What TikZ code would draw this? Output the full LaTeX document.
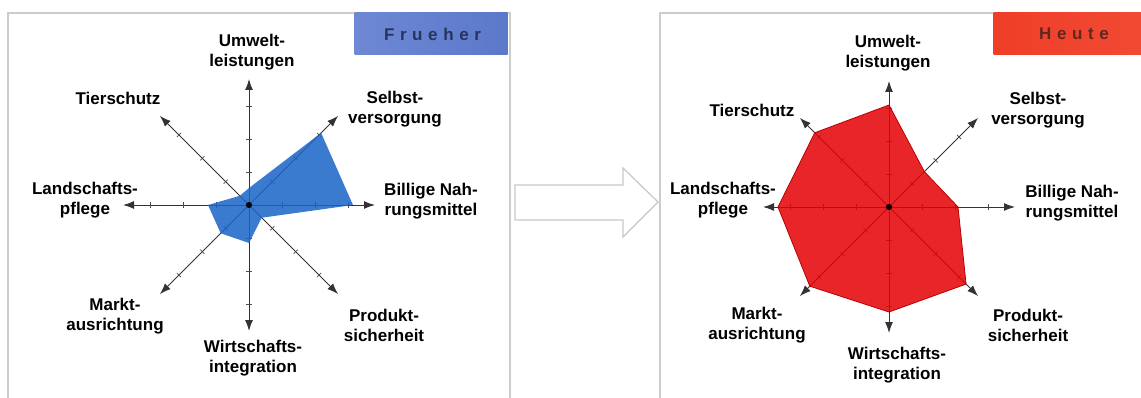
\documentclass[tikz,border=0pt]{standalone}
\usepackage{fontspec}
\setmainfont{Liberation Sans}
\usetikzlibrary{arrows.meta,positioning}
\definecolor{blaufl}{HTML}{1864C8}
\definecolor{rotfl}{HTML}{E40004}
\definecolor{blaul}{HTML}{6E88D4}
\definecolor{blaum}{HTML}{9CB0E8}
\definecolor{blaur}{HTML}{5C78CA}
\definecolor{blautext}{HTML}{27345E}
\definecolor{rotl}{HTML}{EF3E28}
\definecolor{rotm}{HTML}{F6806C}
\definecolor{rotr}{HTML}{F24A34}
\definecolor{rottext}{HTML}{62281F}
\begin{document}
\begin{tikzpicture}[x=1pt,y=1pt,
    lab/.style = {align=center, inner sep=0pt, font=\fontsize{17}{20}\selectfont\bfseries},
    achse/.style = {draw=black!80, line width=1pt, -{Latex[length=11pt,width=8pt]}},
    strich/.style = {draw=black!70, line width=0.7pt},
    punkt/.style = {circle, fill=black, inner sep=0pt, minimum size=6pt},
    rahmen/.style = {draw=black!20, line width=1.5pt},
    titel/.style = {minimum width=153pt, minimum height=42pt, inner sep=0pt,
        font=\fontsize{17}{20}\selectfont\bfseries\addfontfeature{LetterSpace=33}}]

    \useasboundingbox (0,0) rectangle (1141,397);

    % Rahmen
    \draw[rahmen] (8,-2) -- (8,384) -- (510,384) -- (510,-2);
    \draw[rahmen] (660,-2) -- (660,384) -- (1143,384);

    % Titel
    \node[titel, left color=blaul, middle color=blaum, right color=blaur, text=blautext]
        (frueher) at (431,363) {\hspace*{3pt}Frueher};
    \node[titel, left color=rotl, middle color=rotm, right color=rotr, text=rottext]
        (heute) at (1070,363) {\hspace*{8pt}Heute};

    % Pfeil
    \draw[draw=black!22, line width=1.2pt, line join=miter]
        (515,212) -- (623,212) -- (623,229) -- (658,195) -- (623,160) -- (623,177) -- (515,177) -- cycle;

    % Frueher
    \begin{scope}[shift={(249,192)}]
        \node[punkt] (L0) at (0,0) {};
        \foreach \w/\n in {90/u,45/s,0/b,-45/p,-90/w,-135/m,180/l,135/t} {
            \coordinate (L\n) at (\w:126);
            \draw[achse] (L0.center) -- (L\n);
            \foreach \d in {33,66,99}
                \draw[strich, rotate=\w] (\d,-3) -- (\d,3);
        }
        \fill[blaufl, fill opacity=0.85] (90:17) -- (45:102) -- (0:104) -- (-45:18)
            -- (-90:38) -- (-135:40) -- (180:41) -- (135:13) -- cycle;
        \node[punkt] at (L0) {};
        \node[lab] (lu) at (3,153) {Umwelt-\\leistungen};
        \node[lab] (ls) at (146,96) {Selbst-\\versorgung};
        \node[lab] (lb) at (182,4) {Billige Nah-\\rungsmittel};
        \node[lab] (lp) at (135,-120) {Produkt-\\sicherheit};
        \node[lab] (lw) at (4,-153) {Wirtschafts-\\integration};
        \node[lab] (lm) at (-134,-111) {Markt-\\ausrichtung};
        \node[lab] (ll) at (-164,5) {Landschafts-\\pflege};
        \node[lab] (lt) at (-131,107) {Tierschutz};
    \end{scope}

    % Heute
    \begin{scope}[shift={(889,190)}]
        \node[punkt] (R0) at (0,0) {};
        \foreach \w/\n in {90/u,45/s,0/b,-45/p,-90/w,-135/m,180/l,135/t} {
            \coordinate (R\n) at (\w:126);
            \draw[achse] (R0.center) -- (R\n);
            \foreach \d in {33,66,99}
                \draw[strich, rotate=\w] (\d,-3) -- (\d,3);
        }
        \filldraw[fill=rotfl, draw=rotfl!80!black, fill opacity=0.85, line width=0.8pt]
            (90:102) -- (45:50) -- (0:69) -- (-45:109)
            -- (-90:105) -- (-135:112) -- (180:111) -- (135:105) -- cycle;
        \node[punkt] at (R0) {};
        \node[lab] (ru) at (-1,154) {Umwelt-\\leistungen};
        \node[lab] (rs) at (149,97) {Selbst-\\versorgung};
        \node[lab] (rb) at (183,4) {Billige Nah-\\rungsmittel};
        \node[lab] (rp) at (139,-118) {Produkt-\\sicherheit};
        \node[lab] (rw) at (8,-158) {Wirtschafts-\\integration};
        \node[lab] (rm) at (-132,-118) {Markt-\\ausrichtung};
        \node[lab] (rl) at (-166,7) {Landschafts-\\pflege};
        \node[lab] (rt) at (-137,97) {Tierschutz};
    \end{scope}
\end{tikzpicture}
\end{document}
